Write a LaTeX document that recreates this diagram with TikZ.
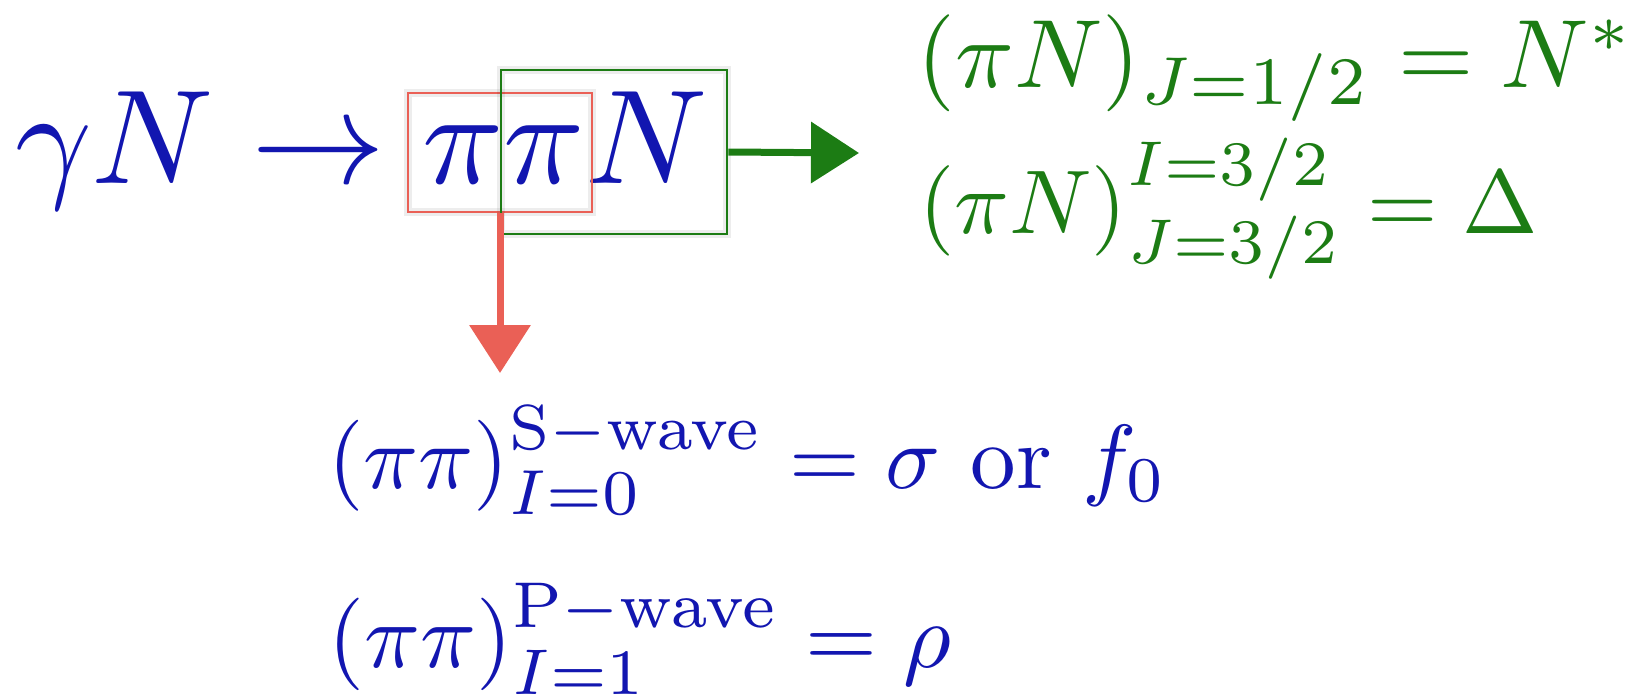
\documentclass[tikz,border=0pt]{standalone}
\definecolor{slideblue}{RGB}{18,22,176}
\definecolor{slidegreen}{RGB}{28,124,20}
\definecolor{slidered}{RGB}{234,96,86}
\usepackage{amsmath}
\usepackage{graphicx}
\usepackage{tikz}
\usetikzlibrary{arrows.meta,positioning}
% formula set at 10pt, then blown up
\newcommand{\bigeq}[2]{\scalebox{#1}{$#2$}}

\begin{document}
\begin{tikzpicture}[x=1pt,y=-1pt,
    eqn/.style={anchor=base west,inner sep=0pt},
    markbox/.style={draw,line width=2.8pt,inner sep=0pt,
        preaction={draw=black,opacity=.07,line width=8pt}},
    fatarrow/.style={line width=7pt,-{Triangle[width=60pt,length=48pt]}}]
    \useasboundingbox (0,0) rectangle (1626,696);
                % reaction
                \node[eqn,text=slideblue] (reac) at (15,183) {\bigeq{13.4}{\gamma N \to \pi\pi N}};
                \node[markbox,draw=slidered,minimum width=184pt,minimum height=119pt] (pipibox) at (500,152.5) {};
                \node[markbox,draw=slidegreen,minimum width=226pt,minimum height=164pt] (piNbox) at (614,152) {};
                % arrows
                \coordinate (piNend) at (859,153);
                \coordinate (pipiend) at (500,373);
                \draw[fatarrow,slidegreen] (piNbox.east) -- (piNend);
                \draw[fatarrow,slidered] (pipibox.south) -- (pipiend);
                % resonances
                \node[eqn,text=slidegreen] (nstar) at (917.5,87) {\bigeq{9.7}{(\pi N)_{J=1/2} = N^*}};
                \node[eqn,text=slidegreen] (delta) at (919,233) {\bigeq{9.05}{(\pi N)^{I=3/2}_{J=3/2} = \Delta}};
                \node[eqn,text=slideblue] (sigma) at (328,488) {\bigeq{9.1}{(\pi\pi)^{\mathrm{S-wave}}_{I=0} = \sigma\ \mathrm{or}\ f_0}};
                \node[eqn,text=slideblue] (rho) at (328,667) {\bigeq{9.25}{(\pi\pi)^{\mathrm{P-wave}}_{I=1} = \rho}};
            \end{tikzpicture}
\end{document}
